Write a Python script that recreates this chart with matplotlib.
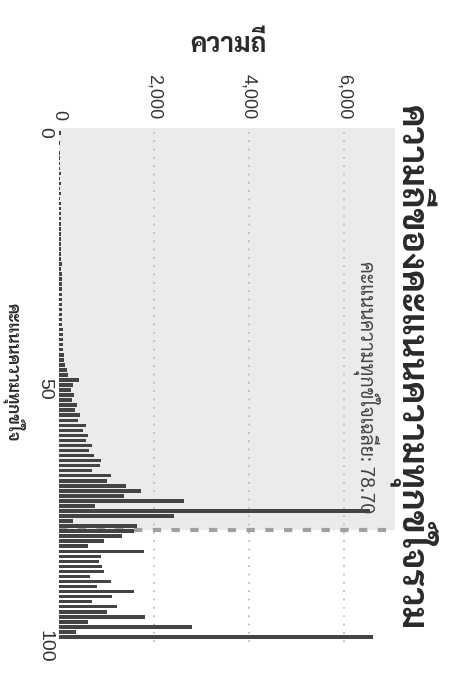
import matplotlib
matplotlib.use("Agg")
import matplotlib.pyplot as plt
from matplotlib import font_manager as fm
from matplotlib.ticker import FuncFormatter

# ---------------- data ----------------
scores = list(range(0, 101))
freq = [40, 10, 25, 10, 30, 15, 30, 15, 35, 30,
        35, 25, 40, 30, 40, 35, 40, 35, 45, 40,
        45, 40, 50, 45, 50, 50, 55, 50, 55, 55,
        60, 55, 60, 60, 65, 65, 70, 65, 70, 75,
        80, 75, 85, 90, 100, 110, 130, 160, 180, 420,
        300, 250, 320, 280, 380, 330, 450, 400, 560, 500,
        600, 560, 700, 640, 740, 880, 860, 700, 1090, 1000,
        1400, 1720, 1370, 2630, 750, 6550, 2420, 300, 1650, 1580,
        1330, 950, 600, 1790, 880, 840, 910, 950, 650, 1090,
        800, 1580, 1120, 700, 1230, 1000, 1820, 600, 2800, 350,
        6600]
mean_score = 78.70
freq_ticks = [0, 2000, 4000, 6000]
score_ticks = [0, 50, 100]
title = "ความถี่ของคะแนนความทุกข์ใจรวม"
freq_label = "ความถี่"
score_label = "คะแนนความทุกข์ใจ"
mean_label = f"คะแนนความทุกข์ใจเฉลี่ย: {mean_score:.2f}"

# ---------------- pick a Thai-capable font ----------------
avail = {f.name for f in fm.fontManager.ttflist}
prefer = ["Sarabun", "Noto Sans Thai Looped", "Noto Sans Thai", "Tahoma",
          "Loma", "Garuda", "Anuphan"]
chosen = [p for p in prefer if p in avail]
plt.rcParams["font.family"] = chosen + ["DejaVu Sans"]

W, H = 477, 674
fig = plt.figure(figsize=(W / 100, H / 100), dpi=100)
fig.patch.set_facecolor("white")
ax = fig.add_axes([59 / W, 1 - 642 / H, (395 - 59) / W, (642 - 128) / H])
ax.set_facecolor("white")

ax.axhspan(-1, mean_score, color="#ebebeb", zorder=0, lw=0)
for t in freq_ticks[1:]:
    ax.axvline(t, color="#b5b5b5", lw=1.2, ls=(0, (1, 4)), zorder=1)
ax.axhline(mean_score, color="#a0a0a0", lw=3, ls=(0, (2, 2.5)), zorder=1)
ax.barh(scores, freq, height=0.7, color="#444444", zorder=2)

ax.set_xlim(0, 7070)
ax.set_ylim(101, -1)
for s in ax.spines.values():
    s.set_visible(False)
ax.xaxis.tick_top()
ax.set_xticks(freq_ticks)
ax.xaxis.set_major_formatter(FuncFormatter(lambda v, p: f"{int(v):,}"))
ax.set_yticks(score_ticks)
ax.tick_params(length=0, colors="#333333")
ax.tick_params(axis="x", pad=6, labelrotation=-90, labelsize=13)
ax.tick_params(axis="y", pad=4, labelrotation=-90, labelsize=14)
for lab in ax.get_xticklabels() + ax.get_yticklabels():
    lab.set_family(["Liberation Sans", "DejaVu Sans"])

ax.text(6480, 75.4, mean_label, rotation=-90, ha="center", va="bottom",
        fontsize=14, color="#444444", zorder=3)

fig.text(228 / W, 1 - 45 / H, freq_label, ha="center", va="center",
         fontsize=19, fontweight="bold", color="#2a2a2a")
fig.text(413 / W, 1 - 368 / H, title, rotation=-90, ha="center", va="center",
         fontsize=26, fontweight="bold", color="#2a2a2a")
fig.text(14 / W, 1 - 372 / H, score_label, rotation=-90, ha="center", va="center",
         fontsize=12, fontweight="bold", color="#2a2a2a")

fig.savefig("out.png", dpi=100)
